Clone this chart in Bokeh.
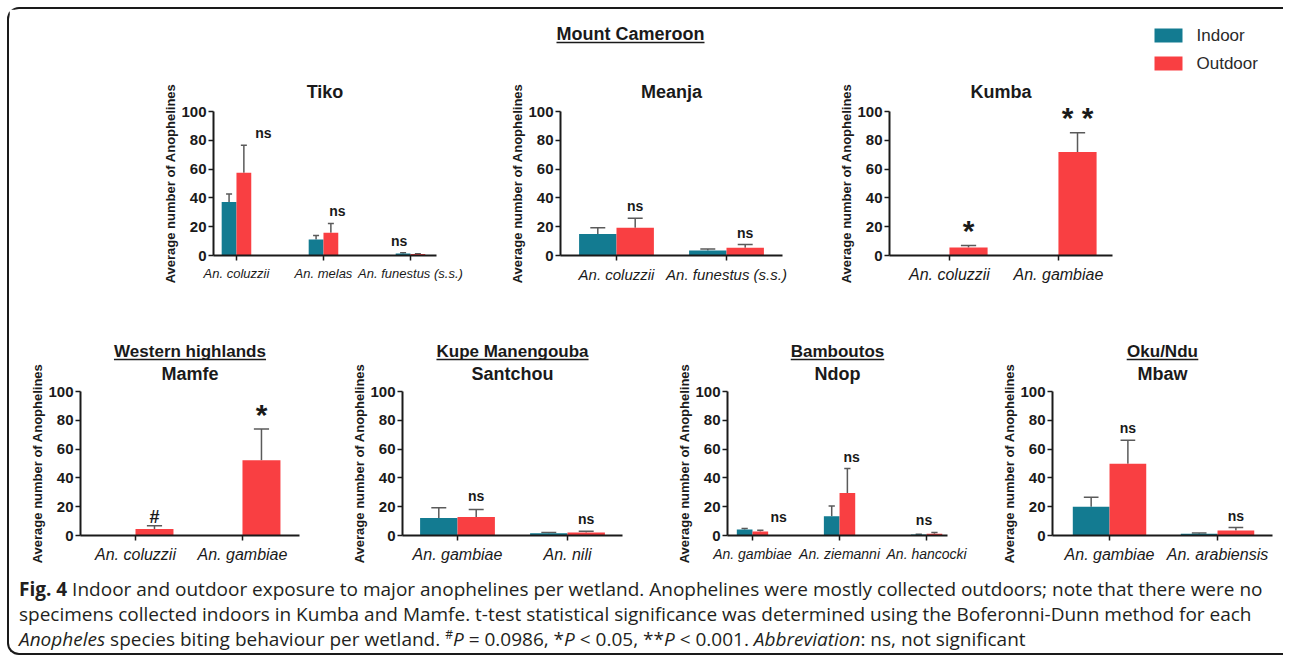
from bokeh.plotting import figure
from bokeh.models import Range1d, FixedTicker, ColumnDataSource, Whisker, TeeHead, Div
from bokeh.layouts import row, column
from bokeh.embed import file_html
from bokeh.resources import INLINE
from bokeh.core.properties import value

# ---------------- data (mean ± SEM) ----------------
tiko_species = ["An. coluzzii", "An. melas", "An. funestus (s.s.)"]
tiko_indoor = [37.1, 11.1, 1.4]
tiko_indoor_sem = [5.6, 2.8, 0.5]
tiko_outdoor = [57.5, 15.8, 1.0]
tiko_outdoor_sem = [19.1, 6.5, 0.3]
tiko_sig = ["ns", "ns", "ns"]

meanja_species = ["An. coluzzii", "An. funestus (s.s.)"]
meanja_indoor = [14.9, 3.4]
meanja_indoor_sem = [4.3, 1.2]
meanja_outdoor = [19.2, 5.3]
meanja_outdoor_sem = [6.7, 2.3]
meanja_sig = ["ns", "ns"]

kumba_species = ["An. coluzzii", "An. gambiae"]
kumba_indoor = [0.0, 0.0]
kumba_indoor_sem = [0.0, 0.0]
kumba_outdoor = [5.5, 71.9]
kumba_outdoor_sem = [1.4, 13.4]
kumba_sig = ["*", "* *"]

mamfe_species = ["An. coluzzii", "An. gambiae"]
mamfe_indoor = [0.0, 0.0]
mamfe_indoor_sem = [0.0, 0.0]
mamfe_outdoor = [4.6, 52.2]
mamfe_outdoor_sem = [2.1, 21.7]
mamfe_sig = ["#", "*"]

santchou_species = ["An. gambiae", "An. nili"]
santchou_indoor = [12.2, 1.6]
santchou_indoor_sem = [7.0, 0.5]
santchou_outdoor = [12.9, 2.1]
santchou_outdoor_sem = [5.1, 0.9]
santchou_sig = ["ns", "ns"]

ndop_species = ["An. gambiae", "An. ziemanni", "An. hancocki"]
ndop_indoor = [4.1, 13.4, 0.7]
ndop_indoor_sem = [0.7, 7.1, 0.2]
ndop_outdoor = [2.8, 29.5, 1.2]
ndop_outdoor_sem = [0.9, 17.0, 0.9]
ndop_sig = ["ns", "ns", "ns"]

mbaw_species = ["An. gambiae", "An. arabiensis"]
mbaw_indoor = [20.0, 1.2]
mbaw_indoor_sem = [6.5, 0.6]
mbaw_outdoor = [49.8, 3.5]
mbaw_outdoor_sem = [16.3, 2.0]
mbaw_sig = ["ns", "ns"]

y_ticks = [0, 20, 40, 60, 80, 100]
series_names = ["Indoor", "Outdoor"]

# ---------------- styling ----------------
INDOOR_COLOR = "#137B91"
OUTDOOR_COLOR = "#F93F42"
INK = "#1a1a1a"
ERR = "#5a5a5a"
SANS = "Liberation Sans"

# Arial/Liberation Sans Bold advance widths (em/1000) for underline lengths
BOLD_W = {' ': 278, '/': 278, 'B': 722, 'C': 722, 'K': 722, 'M': 833, 'N': 722, 'O': 778,
          'W': 944, 'a': 556, 'b': 611, 'd': 611, 'e': 556, 'g': 611, 'h': 611, 'i': 278,
          'l': 278, 'm': 889, 'n': 611, 'o': 611, 'p': 611, 'r': 389, 's': 556, 't': 333,
          'u': 611}


def text_width(s, size):
    return sum(BOLD_W.get(c, 600) for c in s) / 1000.0 * size


# symbol -> (font size, baseline offset in px above the top of the error bar)
SIG_STYLE = {"ns": ("14px", 12), "*": ("30px", 15), "* *": ("30px", 15), "#": ("18px", 9)}


class Geo:
    def __init__(self, x_lo, x_hi, fw, fh):
        self.x_lo, self.x_hi = x_lo, x_hi
        self.px = fw / (x_hi - x_lo)
        self.py = fh / 100.0
        self.xc = (x_lo + x_hi) / 2

    def x(self, off_px):            # pixels from frame centre -> data x
        return self.xc + off_px / self.px

    def xl(self, off_px):           # pixels from frame left -> data x
        return self.x_lo + off_px / self.px

    def y(self, off_px):            # pixels above frame top -> data y
        return 100 + off_px / self.py


def ptext(p, x, y, text, size, style="bold", align="center", baseline="middle", color=INK):
    p.text(x=[x], y=[y], text=[text], text_font=value(SANS), text_font_style=style,
           text_font_size=value(size), text_align=align, text_baseline=baseline,
           text_color=color, level="overlay")


def underline(p, g, y_off_px, width_px, x_off_px=0):
    y = g.y(y_off_px)
    p.segment(x0=[g.x(x_off_px - width_px / 2)], y0=[y], x1=[g.x(x_off_px + width_px / 2)],
              y1=[y], line_color=INK, line_width=1.6, level="overlay")


def panel(species, indoor, indoor_sem, outdoor, outdoor_sem, sig, site, geom,
          group=None, sig_dx=None, xlabel_size="16px"):
    left, fw, right, top, fh, bottom, x_lo, x_hi, bar_w = geom
    g = Geo(x_lo, x_hi, fw, fh)
    p = figure(width=left + fw + right, height=top + fh + bottom,
               x_range=Range1d(x_lo, x_hi), y_range=Range1d(0, 100),
               output_backend="svg", toolbar_location=None,
               min_border_left=left, min_border_right=right,
               min_border_top=top, min_border_bottom=bottom)
    p.outline_line_color = None
    p.xgrid.visible = False
    p.ygrid.visible = False
    p.background_fill_color = "white"
    p.border_fill_color = "white"

    xs = list(range(len(species)))
    src = ColumnDataSource(dict(
        xi=[x - bar_w / 2 for x in xs], xo=[x + bar_w / 2 for x in xs],
        indoor=indoor, outdoor=outdoor))
    p.vbar(x="xi", top="indoor", bottom=0, width=bar_w, source=src,
           fill_color=INDOOR_COLOR, line_color=None)
    p.vbar(x="xo", top="outdoor", bottom=0, width=bar_w, source=src,
           fill_color=OUTDOOR_COLOR, line_color=None)

    cap = max(6, 0.4 * bar_w * g.px)
    wb, wl, wu = [], [], []
    for i, x in enumerate(xs):
        if indoor_sem[i] > 0:
            wb.append(x - bar_w / 2); wl.append(indoor[i]); wu.append(indoor[i] + indoor_sem[i])
        if outdoor_sem[i] > 0:
            wb.append(x + bar_w / 2); wl.append(outdoor[i]); wu.append(outdoor[i] + outdoor_sem[i])
    wsrc = ColumnDataSource(dict(base=wb, lower=wl, upper=wu))
    p.add_layout(Whisker(source=wsrc, base="base", lower="lower", upper="upper",
                         dimension="height", line_color=ERR, line_width=1.5,
                         lower_head=None,
                         upper_head=TeeHead(size=cap, line_color=ERR, line_width=1.5)))

    # axes
    for ax in (p.xaxis[0], p.yaxis[0]):
        ax.axis_line_color = INK
        ax.axis_line_width = 2
        ax.major_tick_line_color = INK
        ax.major_tick_line_width = 1.5
        ax.major_tick_out = 5
        ax.major_tick_in = 0
        ax.minor_tick_out = 0
        ax.minor_tick_in = 0
        ax.major_label_text_color = INK
        ax.major_label_text_font = SANS
    p.yaxis.ticker = FixedTicker(ticks=y_ticks)
    p.yaxis.major_label_text_font_style = "bold"
    p.yaxis.major_label_text_font_size = "15px"
    p.yaxis.major_label_standoff = 2
    p.yaxis.axis_label = "Average number of Anophelines"
    p.yaxis.axis_label_text_font = SANS
    p.yaxis.axis_label_text_font_style = "bold"
    p.yaxis.axis_label_text_font_size = "13px"
    p.yaxis.axis_label_text_color = INK
    p.yaxis.axis_label_standoff = 0
    p.xaxis.ticker = FixedTicker(ticks=xs)
    p.xaxis.major_label_overrides = {x: s for x, s in zip(xs, species)}
    p.xaxis.major_label_text_font_style = "italic"
    p.xaxis.major_label_text_font_size = xlabel_size
    p.xaxis.major_label_standoff = 5

    # significance marks
    if sig_dx is None:
        sig_dx = [bar_w / 2] * len(xs)
    for i, x in enumerate(xs):
        ytop = max(indoor[i] + indoor_sem[i], outdoor[i] + outdoor_sem[i])
        size, off = SIG_STYLE[sig[i]]
        ptext(p, x + sig_dx[i], ytop + off / g.py, sig[i], size, baseline="alphabetic")

    if group is None:
        ptext(p, g.xc, g.y(20), site, "18px")
    else:
        ptext(p, g.xc, g.y(18), site, "18px")
        ptext(p, g.xc, g.y(40), group, "17px")
        underline(p, g, 32, text_width(group, 17))
    return p, g


# geometry: left border, frame width, right border, top border, frame height, bottom border,
#           x range start/end, bar width
TOP_T, FH, TOP_B = 102, 144, 56
BOT_T, BOT_B = 80, 38

p_tiko, _ = panel(tiko_species, tiko_indoor, tiko_indoor_sem, tiko_outdoor,
                  tiko_outdoor_sem, tiko_sig, "Tiko",
                  (204, 223, 43, TOP_T, FH, TOP_B, -0.264, 2.299, 0.17),
                  sig_dx=[0.31, 0.16, -0.13], xlabel_size="13px")
p_meanja, g_meanja = panel(meanja_species, meanja_indoor, meanja_indoor_sem,
                           meanja_outdoor, meanja_outdoor_sem, meanja_sig, "Meanja",
                           (81, 222, 37, TOP_T, FH, TOP_B, -0.509, 1.509, 0.34),
                           xlabel_size="15px")
p_kumba, g_kumba = panel(kumba_species, kumba_indoor, kumba_indoor_sem,
                         kumba_outdoor, kumba_outdoor_sem, kumba_sig, "Kumba",
                         (70, 223, 170, TOP_T, FH, TOP_B, -0.55, 1.496, 0.35))

# header of the Mount Cameroon region
mc = "Mount Cameroon"
ptext(p_meanja, g_meanja.x(-41), g_meanja.y(78), mc, "18px")
underline(p_meanja, g_meanja, 69, text_width(mc, 18), x_off_px=-41)

# legend (drawn at the top right of the Kumba panel)
leg_colors = [INDOOR_COLOR, OUTDOOR_COLOR]
for k, (name, col) in enumerate(zip(series_names, leg_colors)):
    top_px = 83 - 28 * k
    p_kumba.quad(left=[g_kumba.xl(265)], right=[g_kumba.xl(293)],
                 top=[g_kumba.y(top_px)], bottom=[g_kumba.y(top_px - 14)],
                 fill_color=col, line_color=None, level="overlay")
    ptext(p_kumba, g_kumba.xl(307), g_kumba.y(top_px - 7), name, "17px", style="normal",
          align="left", color="#2a2a2a")

p_mamfe, _ = panel(mamfe_species, mamfe_indoor, mamfe_indoor_sem, mamfe_outdoor,
                   mamfe_outdoor_sem, mamfe_sig, "Mamfe",
                   (71, 219, 40, BOT_T, FH, BOT_B, -0.514, 1.533, 0.355),
                   group="Western highlands")
p_santchou, _ = panel(santchou_species, santchou_indoor, santchou_indoor_sem,
                      santchou_outdoor, santchou_outdoor_sem, santchou_sig, "Santchou",
                      (63, 220, 37, BOT_T, FH, BOT_B, -0.5, 1.5, 0.34),
                      group="Kupe Manengouba")
p_ndop, _ = panel(ndop_species, ndop_indoor, ndop_indoor_sem, ndop_outdoor,
                  ndop_outdoor_sem, ndop_sig, "Ndop",
                  (68, 220, 42, BOT_T, FH, BOT_B, -0.287, 2.24, 0.18),
                  group="Bamboutos", sig_dx=[0.30, 0.14, -0.03], xlabel_size="14px")
p_mbaw, _ = panel(mbaw_species, mbaw_indoor, mbaw_indoor_sem, mbaw_outdoor,
                  mbaw_outdoor_sem, mbaw_sig, "Mbaw",
                  (63, 220, 10, BOT_T, FH, BOT_B, -0.528, 1.509, 0.34),
                  group="Oku/Ndu")

caption_html = (
    '<div style="font-family:\'Open Sans\';font-size:19px;line-height:25px;'
    'color:#231f20;white-space:nowrap;">'
    '<b>Fig. 4</b> Indoor and outdoor exposure to major anophelines per wetland. '
    'Anophelines were mostly collected outdoors; note that there were no<br>'
    'specimens collected indoors in Kumba and Mamfe. t-test statistical significance was '
    'determined using the Boferonni-Dunn method for each<br>'
    '<i>Anopheles</i> species biting behaviour per wetland. '
    '<span style="font-size:12px;vertical-align:7px;line-height:0;">#</span><i>P</i> = 0.0986, '
    '*<i>P</i> &lt; 0.05, **<i>P</i> &lt; 0.001. <i>Abbreviation</i>: ns, not significant'
    '</div>')
caption = Div(text=caption_html, width=1264, height=76, margin=(4, 0, 0, 10))

top_row = row(p_tiko, p_meanja, p_kumba, spacing=0)
bot_row = row(p_mamfe, p_santchou, p_ndop, p_mbaw, spacing=0)
root = column(top_row, bot_row, caption, spacing=0, margin=(7, 0, 0, 7),
              styles={"border-top": "2px solid #1a1a1a", "border-left": "2px solid #1a1a1a",
                      "border-bottom": "2px solid #1a1a1a",
                      "border-top-left-radius": "12px", "border-bottom-left-radius": "12px"})

open("out.html", "w").write(file_html(root, INLINE))
